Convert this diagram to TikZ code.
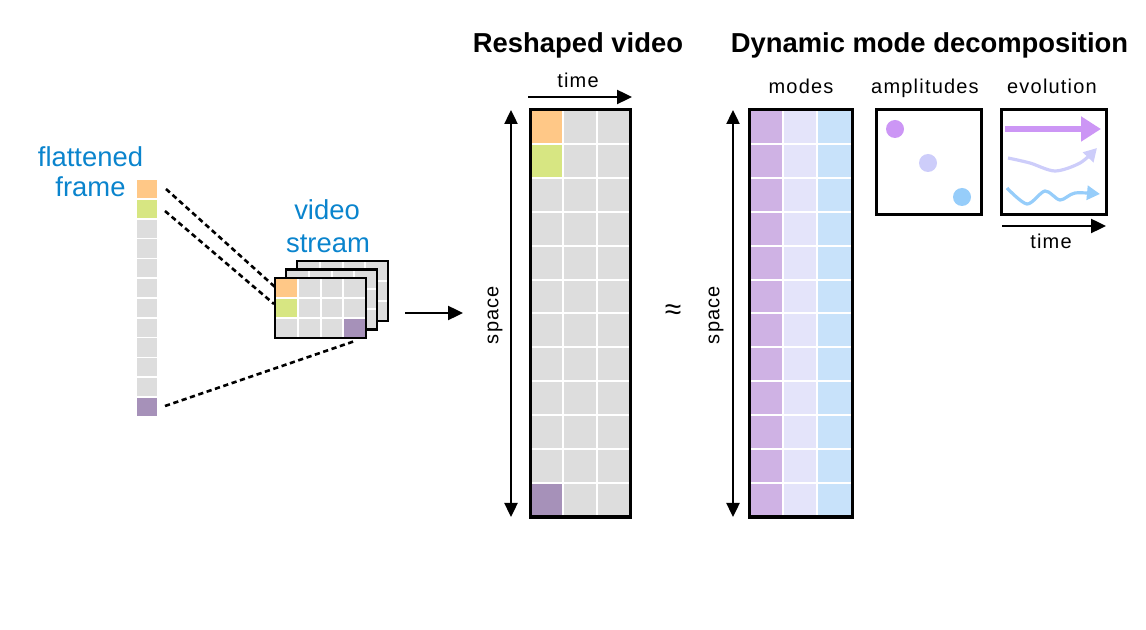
\documentclass[tikz,border=0pt]{standalone}
\usepackage{fontspec}
\setmainfont{Liberation Sans}
\newfontfamily\spacedfont[LetterSpace=6]{Liberation Sans}
\usetikzlibrary{arrows.meta, math}
\definecolor{qorange}{RGB}{255,200,135}
\definecolor{qgreen}{RGB}{215,230,130}
\definecolor{qgrey}{RGB}{221,221,221}
\definecolor{qpurple}{RGB}{166,145,185}
\definecolor{qtext}{RGB}{10,132,205}
\definecolor{mpurple}{RGB}{207,178,228}
\definecolor{mlav}{RGB}{228,228,250}
\definecolor{mblue}{RGB}{200,226,250}
\definecolor{apurple}{RGB}{204,150,245}
\definecolor{alav}{RGB}{205,205,250}
\definecolor{ablue}{RGB}{150,205,250}

\tikzset{
  mat/.style={draw=black, line width=1.5pt},
  gridline/.style={white, line width=1pt},
  bluelabel/.style={text=qtext, font=\fontsize{13.7}{16}\selectfont, align=center, anchor=base},
  title/.style={font=\fontsize{13.7}{16}\selectfont\bfseries, anchor=base},
  axislabel/.style={font=\fontsize{10}{12}\selectfont\spacedfont, anchor=base},
  tip/.style={-{Triangle[length=7.5pt,width=7pt]}, line width=1.2pt},
  axisarrow/.style={{Triangle[length=7pt,width=6.5pt]}-{Triangle[length=7pt,width=6.5pt]}, line width=1.2pt},
  link/.style={dashed, dash pattern=on 2.6pt off 1.8pt, line width=1.3pt}
}

\begin{document}
\begin{tikzpicture}[x=0.5pt,y=-0.5pt]

\tikzmath{
\cw = 22.75; %frame cell width
\ch = 20; %frame cell height
\rh = 407/12; %matrix row height
\fh = 19.8; %flattened cell pitch
}

\useasboundingbox (0,0) rectangle (1146,630);

%flattened frame:
\foreach \i in {0,...,11} {
  \fill[qgrey] (137,180+\i*\fh) rectangle +(20,18.3);
}
\fill[qorange] (137,180) rectangle +(20,18.3);
\fill[qgreen] (137,180+\fh) rectangle +(20,18.3);
\fill[qpurple] (137,180+11*\fh) rectangle +(20,18.3);
\node[bluelabel] (flatlabel) at (90.5,167) {flattened};
\node[bluelabel] (framelabel) at (90.5,197) {frame};

\coordinate (fo) at (166,189);
\coordinate (fg) at (165,211);
\coordinate (fp) at (165,406);

%video stream:
\foreach \dx/\dy in {22/-17, 11/-8.5, 0/0} {
  \begin{scope}[shift={(\dx,\dy)}]
  \fill[qgrey] (275,278) rectangle (366,338);
  \ifdim \dx pt=0pt
    \fill[qorange] (275,278) rectangle +(\cw,\ch);
    \fill[qgreen] (275,278+\ch) rectangle +(\cw,\ch);
    \fill[qpurple] (275+3*\cw,278+2*\ch) rectangle +(\cw,\ch);
  \fi
  \foreach \j in {1,2,3} \draw[gridline] (275+\j*\cw,278) -- +(0,60);
  \foreach \j in {1,2} \draw[gridline] (275,278+\j*\ch) -- +(91,0);
  \draw[draw=black, line width=1.3pt] (275,278) rectangle (366,338);
  \end{scope}
}
\node[bluelabel] (videolabel) at (327,220) {video};
\node[bluelabel] (streamlabel) at (328,253) {stream};

\coordinate (so) at (275,287);
\coordinate (sg) at (274,304);
\coordinate (sp) at (355,341);

\draw[link] (fo) -- (so);
\draw[link] (fg) -- (sg);
\draw[link] (fp) -- (sp);

\coordinate (streamR) at (405,313);
\coordinate (videoL) at (463,313);
\draw[tip] (streamR) -- (videoL);

%reshaped video:
\node[title] (rtitle) at (578,53) {Reshaped video};
\fill[qgrey] (530,110) rectangle (630,517);
\fill[qorange] (530,110) rectangle (563,110+\rh);
\fill[qgreen] (530,110+\rh) rectangle (563,110+2*\rh);
\fill[qpurple] (530,110+11*\rh) rectangle (563,517);
\foreach \i in {1,...,11} \draw[gridline] (530,110+\i*\rh) -- (630,110+\i*\rh);
\foreach \x in {563,597} \draw[gridline] (\x,110) -- (\x,517);
\draw[mat] (530,110) rectangle (630,517);

\coordinate (t1) at (528,97);
\coordinate (t2) at (632,97);
\draw[tip] (t1) -- (t2);
\node[axislabel] (rtime) at (578,88) {time};
\coordinate (s1) at (511,517);
\coordinate (s2) at (511,110);
\draw[axisarrow] (s1) -- (s2);
\node[axislabel, rotate=90, anchor=center] (rspace) at (495,315) {space};

\node[font=\fontsize{15}{18}\selectfont] (approx) at (673,312) {≈};

%dmd:
\node[title] (dtitle) at (929.5,53) {Dynamic mode decomposition};

%modes
\fill[mpurple] (749,110) rectangle (783,517);
\fill[mlav] (783,110) rectangle (817,517);
\fill[mblue] (817,110) rectangle (852,517);
\foreach \i in {1,...,11} \draw[gridline] (749,110+\i*\rh) -- (852,110+\i*\rh);
\foreach \x in {783,817} \draw[gridline] (\x,110) -- (\x,517);
\draw[mat] (749,110) rectangle (852,517);
\node[axislabel] (modes) at (801,94) {modes};

\coordinate (m1) at (733,517);
\coordinate (m2) at (733,110);
\draw[axisarrow] (m1) -- (m2);
\node[axislabel, rotate=90, anchor=center] (mspace) at (716,315) {space};

%amplitudes
\draw[mat] (876,110) rectangle (981,215);
\fill[apurple] (895,129) circle(9);
\fill[alav] (928,163) circle(9);
\fill[ablue] (962,197) circle(9);
\node[axislabel] (ampl) at (925,94) {amplitudes};

%evolution
\draw[mat] (1001,110) rectangle (1106,215);
\draw[apurple, line width=3pt, -{Triangle[length=10pt,width=12pt]}] (1005,129) -- (1101,129);
\draw[alav, line width=1.6pt, -{Triangle[length=6.5pt,width=7pt]}] plot[smooth] coordinates {(1008,158) (1030,163) (1055,171) (1080,163) (1097,148)};
\draw[ablue, line width=1.6pt, -{Triangle[length=6.5pt,width=7pt]}] plot[smooth] coordinates {(1007,188) (1027,204) (1045,191) (1060,200) (1075,193) (1100,194)};
\node[axislabel] (evol) at (1052,94) {evolution};

\coordinate (e1) at (1002,226);
\coordinate (e2) at (1106,226);
\draw[tip] (e1) -- (e2);
\node[axislabel] (etime) at (1051,249) {time};

\end{tikzpicture}
\end{document}
